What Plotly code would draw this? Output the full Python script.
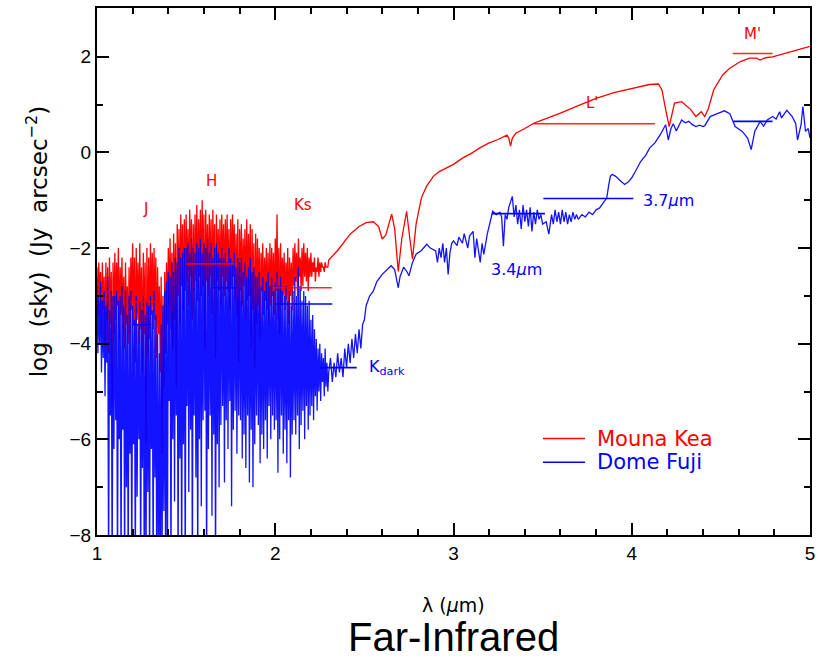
import plotly.graph_objects as go

# ---------------- data ----------------
# noisy near-IR part: per 0.01 um bin starting at 1.00 um, high and low envelope values
bin_start = 1.00
bin_step = 0.01

mk_hi = [-2.4, -2.3, -2.5, -2.3, -2.6, -2.3, -2.4, -2.2, -2.5, -2.3,
         -2.1, -2.3, -2.0, -2.4, -2.2, -2.6, -2.3, -2.8, -2.4, -2.2,
         -1.9, -2.2, -2.0, -2.3, -1.9, -2.4, -2.1, -2.3, -2.0, -2.2,
         -1.9, -2.1, -2.0, -2.2, -2.4, -2.8, -2.6, -3.0, -2.5, -2.3,
         -2.0, -1.8, -2.1, -1.7, -1.9, -1.5, -1.6, -1.3, -1.5, -1.4,
         -1.3, -1.6, -1.2, -1.4, -1.5, -1.3, -1.1, -1.4, -1.2, -1.0,
         -1.3, -1.2, -1.5, -1.3, -1.4, -1.2, -1.5, -1.3, -1.6, -1.4,
         -1.3, -1.5, -1.4, -1.3, -1.6, -1.4, -1.3, -1.5, -1.7, -1.4,
         -1.6, -1.5, -1.8, -1.6, -1.4, -1.7, -1.5, -1.6, -1.9, -1.7,
         -1.8, -2.0, -2.1, -1.9, -2.2, -2.0, -2.1, -1.9, -2.0, -2.1,
         -1.8, -1.3, -2.0, -1.9, -2.2, -2.1, -2.3, -2.0, -2.2, -2.3,
         -2.0, -1.9, -2.1, -1.8, -2.2, -2.0, -1.9, -2.1, -2.0, -2.2,
         -2.1, -2.3, -2.2, -2.4, -2.2, -2.3, -2.3, -2.4, -2.3, -2.4]
mk_lo = [-3.4, -3.0, -3.8, -3.3, -4.0, -3.5, -4.2, -3.6, -5.3, -3.8,
         -3.5, -3.2, -3.9, -3.4, -3.7, -4.1, -3.6, -4.0, -3.8, -3.3,
         -3.6, -4.4, -3.5, -4.0, -3.7, -4.6, -3.8, -6.1, -4.2, -3.9,
         -3.4, -3.7, -3.5, -4.3, -3.8, -4.6, -6.3, -4.9, -4.2, -3.6,
         -3.2, -3.7, -4.1, -3.5, -4.9, -3.0, -3.6, -2.8, -3.3, -2.9,
         -2.7, -3.2, -2.6, -3.5, -2.9, -2.7, -3.1, -2.6, -3.0, -2.8,
         -4.1, -2.7, -3.0, -2.6, -3.4, -2.8, -4.3, -2.7, -2.9, -3.2,
         -2.6, -3.0, -2.7, -2.9, -3.3, -2.8, -2.6, -3.1, -3.4, -4.4,
         -2.9, -3.2, -2.8, -3.5, -3.1, -3.0, -4.1, -3.3, -4.5, -3.6,
         -3.2, -3.9, -2.9, -3.4, -3.1, -3.3, -3.6, -3.2, -3.0, -3.4,
         -2.9, -3.5, -3.8, -3.2, -3.0, -3.3, -3.1, -3.6, -3.0, -3.3,
         -2.8, -2.7, -3.0, -2.6, -2.9, -2.8, -2.6, -2.7, -2.9, -2.6,
         -2.6, -2.5, -2.7, -2.5, -2.6, -2.5, -2.4, -2.5, -2.4, -2.4]

df_hi = [-2.8, -3.0, -2.7, -3.1, -2.9, -3.2, -2.6, -3.3, -2.9, -3.0,
         -3.0, -2.9, -3.1, -3.0, -2.8, -3.2, -2.9, -3.4, -3.0, -2.9,
         -3.2, -3.5, -3.0, -3.6, -3.1, -3.3, -3.0, -3.4, -3.1, -3.2,
         -3.0, -3.3, -2.9, -3.4, -3.8, -4.2, -3.6, -3.2, -2.9, -2.7,
         -2.5, -2.6, -2.3, -2.5, -2.2, -2.3, -2.0, -2.2, -2.1, -2.0,
         -2.0, -1.9, -2.1, -1.8, -2.0, -2.1, -1.9, -2.0, -1.8, -2.1,
         -1.9, -2.0, -1.8, -2.1, -1.9, -2.2, -2.0, -1.9, -2.1, -2.2,
         -2.0, -2.2, -2.1, -2.3, -2.0, -2.2, -2.3, -2.1, -2.4, -2.2,
         -2.3, -2.2, -2.5, -2.3, -2.6, -2.4, -2.2, -2.5, -2.4, -2.6,
         -2.6, -2.5, -2.8, -2.6, -2.9, -2.7, -2.5, -2.8, -2.6, -2.9,
         -2.7, -2.5, -2.8, -2.6, -2.9, -3.0, -2.8, -3.1, -2.9, -3.2,
         -2.9, -2.6, -3.0, -2.4, -2.8, -3.1, -2.9, -3.0, -3.2, -3.1,
         -3.5, -3.4, -3.7, -3.9, -4.1, -4.0, -4.2, -4.3, -4.1, -4.4]
df_lo = [-4.2, -4.0, -4.6, -4.3, -5.1, -4.4, -9.0, -5.5, -9.0, -6.2,
         -5.6, -9.0, -6.0, -9.0, -5.8, -9.0, -7.0, -9.0, -6.3, -9.0,
         -6.1, -9.0, -7.2, -6.0, -9.0, -6.6, -9.0, -9.0, -7.1, -9.0,
         -6.2, -9.0, -6.8, -9.0, -9.0, -9.0, -9.0, -7.5, -9.0, -9.0,
         -5.2, -9.0, -6.0, -7.3, -5.5, -9.0, -6.4, -9.0, -6.1, -9.0,
         -5.3, -7.1, -5.8, -9.0, -5.5, -6.8, -9.0, -6.0, -7.4, -5.6,
         -5.4, -9.0, -6.2, -5.5, -7.6, -5.9, -9.0, -6.1, -7.0, -5.7,
         -5.3, -6.9, -5.6, -6.2, -5.2, -7.4, -5.8, -5.4, -6.3, -5.5,
         -5.6, -6.4, -5.9, -6.6, -5.5, -6.9, -5.8, -7.0, -6.1, -5.5,
         -5.7, -6.5, -5.9, -6.2, -5.6, -6.4, -5.3, -6.0, -5.5, -5.8,
         -5.6, -6.7, -6.0, -5.5, -6.3, -5.8, -6.5, -5.6, -6.8, -5.9,
         -5.6, -5.9, -5.5, -6.2, -5.7, -5.4, -6.0, -5.3, -5.8, -5.5,
         -5.3, -5.6, -5.1, -5.4, -5.0, -5.2, -4.8, -5.1, -4.9, -5.0]

# smoother thermal-IR part
mk_wl = [2.30, 2.35, 2.42, 2.47, 2.51, 2.55, 2.58, 2.60, 2.62, 2.653, 2.67, 2.69,
         2.71, 2.737, 2.755, 2.77, 2.79, 2.82, 2.85, 2.887, 2.92, 3.00, 3.05, 3.10,
         3.15, 3.20, 3.25, 3.30, 3.31, 3.32, 3.33, 3.35, 3.40, 3.45, 3.50, 3.60,
         3.70, 3.80, 3.90, 4.00, 4.10, 4.15, 4.17, 4.19, 4.21, 4.24, 4.28, 4.33,
         4.36, 4.39, 4.41, 4.43, 4.46, 4.51, 4.55, 4.61, 4.66, 4.70, 4.72, 4.75,
         4.79, 4.84, 4.89, 4.95, 4.98, 5.00]
mk_val = [-2.25, -2.05, -1.71, -1.55, -1.47, -1.45, -1.55, -1.81, -1.73, -1.29, -1.6, -2.49,
          -1.8, -1.23, -1.8, -2.23, -1.5, -0.95, -0.7, -0.5, -0.4, -0.25, -0.12, -0.02,
          0.1, 0.2, 0.27, 0.36, 0.3, 0.13, 0.3, 0.4, 0.5, 0.61, 0.68, 0.82,
          0.98, 1.13, 1.25, 1.34, 1.42, 1.43, 1.3, 0.9, 0.54, 1.03, 1.06, 0.9,
          0.75, 0.85, 0.75, 0.92, 1.31, 1.62, 1.76, 1.9, 1.97, 1.97, 1.93, 1.98,
          2.0, 2.05, 2.1, 2.16, 2.19, 2.22]

df_wl = [2.30, 2.31, 2.32, 2.33, 2.34, 2.35, 2.36, 2.37, 2.38, 2.39, 2.40, 2.41,
         2.42, 2.43, 2.44, 2.45, 2.46, 2.47, 2.48, 2.49, 2.50, 2.51, 2.52, 2.53,
         2.55, 2.57, 2.60, 2.63, 2.65, 2.67, 2.69, 2.70, 2.72, 2.74, 2.75, 2.77,
         2.79, 2.82, 2.85, 2.87, 2.90, 2.91, 2.92, 2.93, 2.94, 2.95, 2.96, 2.97,
         2.98, 2.99, 3.00, 3.02, 3.03, 3.05, 3.06, 3.08, 3.09, 3.11, 3.12, 3.13,
         3.15, 3.16, 3.17, 3.19, 3.205, 3.22, 3.24, 3.26, 3.27, 3.28, 3.29, 3.30,
         3.31, 3.33, 3.34, 3.35, 3.36, 3.37, 3.38, 3.39, 3.40, 3.41, 3.42, 3.43,
         3.44, 3.45, 3.46, 3.47, 3.48, 3.49, 3.50, 3.52, 3.535, 3.55, 3.56, 3.57,
         3.58, 3.59, 3.60, 3.61, 3.62, 3.63, 3.64, 3.65, 3.66, 3.67, 3.68, 3.69,
         3.70, 3.72, 3.74, 3.76, 3.78, 3.80, 3.82, 3.84, 3.86, 3.87, 3.88, 3.89,
         3.91, 3.93, 3.96, 3.98, 4.00, 4.02, 4.05, 4.08, 4.10, 4.13, 4.16, 4.19,
         4.205, 4.22, 4.233, 4.25, 4.27, 4.28, 4.30, 4.32, 4.34, 4.36, 4.38, 4.40,
         4.41, 4.44, 4.48, 4.52, 4.55, 4.58, 4.62, 4.65, 4.67, 4.69, 4.72, 4.74,
         4.76, 4.79, 4.81, 4.83, 4.84, 4.87, 4.90, 4.92, 4.93, 4.95, 4.96, 4.975,
         4.99, 5.00]
df_val = [-4.6, -4.3, -4.8, -4.4, -4.7, -4.2, -4.6, -4.3, -4.7, -4.1, -4.5, -4.0,
          -4.4, -3.9, -4.3, -3.8, -4.2, -3.7, -4.1, -3.6, -3.5, -3.2, -3.1, -3.0,
          -2.9, -2.7, -2.55, -2.45, -2.37, -2.45, -2.83, -2.6, -2.4, -2.5, -2.58, -2.3,
          -2.13, -2.05, -1.92, -2.0, -2.06, -2.3, -2.0, -2.2, -1.9, -2.3, -2.0, -2.55,
          -2.1, -1.9, -1.85, -1.95, -1.77, -1.9, -1.7, -2.0, -1.75, -1.65, -2.2, -1.8,
          -2.3, -1.9, -2.13, -1.7, -1.44, -1.23, -1.3, -1.25, -1.35, -1.96, -1.3, -1.4,
          -1.15, -0.92, -1.35, -1.1, -1.5, -1.2, -1.6, -1.1, -1.45, -1.2, -1.55, -1.15,
          -1.65, -1.25, -1.5, -1.2, -1.4, -1.3, -1.5, -1.45, -1.71, -1.3, -1.5, -1.2,
          -1.45, -1.25, -1.5, -1.2, -1.45, -1.25, -1.5, -1.3, -1.45, -1.25, -1.4, -1.3,
          -1.4, -1.3, -1.35, -1.25, -1.3, -1.2, -1.16, -1.05, -0.95, -0.7, -0.5, -0.46,
          -0.5, -0.57, -0.67, -0.62, -0.53, -0.4, -0.19, -0.05, 0.09, 0.2, 0.37, 0.58,
          0.26, 0.5, 0.6, 0.45, 0.62, 0.68, 0.62, 0.65, 0.58, 0.54, 0.57, 0.54,
          0.56, 0.75, 0.81, 0.87, 0.81, 0.54, 0.44, 0.3, 0.06, 0.44, 0.65, 0.55,
          0.68, 0.75, 0.7, 0.85, 0.72, 0.88, 0.75, 0.6, 0.26, 0.58, 0.96, 0.44,
          0.5, 0.3]

# photometric band markers (horizontal bars): start, end, level
mk_band_x0 = [1.185, 1.50, 1.99, 3.446, 4.567]
mk_band_x1 = [1.353, 1.78, 2.317, 4.13, 4.79]
mk_band_y = [-3.12, -2.33, -2.83, 0.60, 2.07]
df_band_x0 = [1.20, 1.65, 2.00, 2.25, 3.215, 3.504, 4.57]
df_band_x1 = [1.30, 1.78, 2.32, 2.457, 3.513, 4.009, 4.79]
df_band_y = [-3.6, -2.83, -3.17, -4.5, -1.28, -0.965, 0.65]

# band labels
mk_lab_text = ["J", "H", "Ks", "L'", "M'"]
mk_lab_x = [1.27, 1.645, 2.155, 3.777, 4.675]
mk_lab_y = [-1.19, -0.6, -1.1, 1.04, 2.48]
df_lab_text = ["3.7<i>μ</i>m", "3.4<i>μ</i>m", "K<sub>dark</sub>"]
df_lab_x = [4.05, 3.2, 2.515]
df_lab_y = [-1.0, -2.44, -4.5]

series_names = ["Mouna Kea", "Dome Fuji"]
series_colors = ["#ff0000", "#0000ff"]
RED, BLUE = series_colors


def zigzag(hi, lo):
    xs, ys = [], []
    for i, (h, l) in enumerate(zip(hi, lo)):
        lam = bin_start + i * bin_step
        xs += [lam, lam + bin_step / 2]
        ys += [h, l]
    return xs, ys


fig = go.Figure()

rx, ry = zigzag(mk_hi, mk_lo)
fig.add_trace(go.Scatter(x=rx + mk_wl, y=ry + mk_val, mode="lines", name=series_names[0],
                         line=dict(color=RED, width=1.3), showlegend=False))
bx, by = zigzag(df_hi, df_lo)
fig.add_trace(go.Scatter(x=bx + df_wl, y=by + df_val, mode="lines", name=series_names[1],
                         line=dict(color=BLUE, width=1.3), opacity=0.92, showlegend=False))

for x0, x1, yv in zip(mk_band_x0, mk_band_x1, mk_band_y):
    fig.add_trace(go.Scatter(x=[x0, x1], y=[yv, yv], mode="lines", opacity=0.85,
                             line=dict(color=RED, width=1.6), showlegend=False))
for x0, x1, yv in zip(df_band_x0, df_band_x1, df_band_y):
    fig.add_trace(go.Scatter(x=[x0, x1], y=[yv, yv], mode="lines",
                             line=dict(color=BLUE, width=1.6), showlegend=False))

for t, x, y in zip(mk_lab_text, mk_lab_x, mk_lab_y):
    fig.add_annotation(x=x, y=y, text=t, showarrow=False,
                       font=dict(color=RED, size=15, family="DejaVu Sans"))
for t, x, y in zip(df_lab_text, df_lab_x, df_lab_y):
    fig.add_annotation(x=x, y=y, text=t, showarrow=False, xanchor="left",
                       font=dict(color=BLUE, size=16, family="DejaVu Sans"))

# legend (drawn as key lines + coloured text, like the original)
leg_x0, leg_x1, leg_tx = 0.6255, 0.6845, 0.6985
leg_y = [0.183, 0.138]
for name, col, yy in zip(series_names, series_colors, leg_y):
    fig.add_shape(type="line", xref="paper", yref="paper", x0=leg_x0, x1=leg_x1, y0=yy, y1=yy,
                  line=dict(color=col, width=1.6))
    fig.add_annotation(xref="paper", yref="paper", x=leg_tx, y=yy, xanchor="left",
                       yanchor="middle", text=name, showarrow=False,
                       font=dict(color=col, size=21, family="DejaVu Sans"))

fig.add_annotation(xref="paper", yref="paper", x=0.5, y=-0.132, yanchor="middle",
                   text="λ (<i>μ</i>m)", showarrow=False,
                   font=dict(size=19, color="black", family="DejaVu Sans"))
fig.add_annotation(xref="paper", yref="paper", x=0.5, y=-0.193, yanchor="middle",
                   text="Far-Infrared", showarrow=False,
                   font=dict(size=40, color="black", family="Liberation Sans"))
fig.add_annotation(xref="paper", yref="paper", x=-0.083, y=0.557, xanchor="center",
                   yanchor="middle", textangle=-90,
                   text="log\u00a0 (sky)\u00a0 (Jy\u00a0 arcsec<sup>−2</sup>)", showarrow=False,
                   font=dict(size=23, color="black", family="DejaVu Sans"))

axis_common = dict(showline=True, mirror="allticks", linecolor="black", linewidth=2,
                   ticks="inside", tickcolor="black", tickwidth=2, ticklen=12,
                   showgrid=False, zeroline=False,
                   tickfont=dict(size=19, color="black", family="Liberation Sans"))

fig.update_xaxes(range=[1, 5], tickvals=[1, 2, 3, 4, 5],
                 minor=dict(dtick=0.2, tick0=1, ticks="inside", ticklen=6, tickwidth=1.5,
                            tickcolor="black"),
                 **axis_common)
fig.update_yaxes(range=[-8, 3.02], tickvals=[-8, -6, -4, -2, 0, 2],
                 minor=dict(dtick=1, tick0=0, ticks="inside", ticklen=6, tickwidth=1.5,
                            tickcolor="black"),
                 **axis_common)

fig.update_layout(width=823, height=658, margin=dict(l=97, r=13, t=6, b=123),
                  paper_bgcolor="white", plot_bgcolor="white", showlegend=False)

fig.write_html("out.html")
